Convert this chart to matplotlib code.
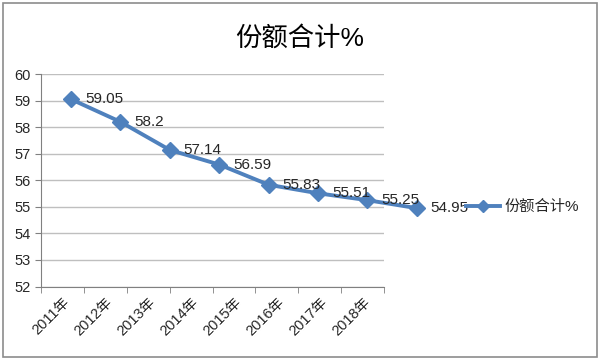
import matplotlib
matplotlib.use('Agg')
import matplotlib.pyplot as plt
from matplotlib.patches import Rectangle

plt.rcParams['font.family'] = ['Liberation Sans', 'Noto Sans CJK SC']

years = ['2011年', '2012年', '2013年', '2014年', '2015年', '2016年', '2017年', '2018年']
share = [59.05, 58.2, 57.14, 56.59, 55.83, 55.51, 55.25, 54.95]
series_name = '份额合计%'
y_ticks = [52, 53, 54, 55, 56, 57, 58, 59, 60]

blue = '#4F81BD'
grid_gray = '#BFBFBF'
text_col = '#262626'

fig = plt.figure(figsize=(6, 3.6), dpi=100)
fig.patches.append(Rectangle((0.005, 0.008), 0.99, 0.985, transform=fig.transFigure,
                             fill=False, edgecolor='#8C8C8C', linewidth=1.2))

pos = [40.7 / 600, 73.5 / 360, 343.6 / 600, 212.5 / 360]

# axis, grid and category labels
ax = fig.add_axes(pos)
n = len(years)
ax.set_xlim(-0.5, n - 0.5)
ax.set_ylim(y_ticks[0], y_ticks[-1])
ax.set_yticks(y_ticks)
ax.set_yticklabels([str(t) for t in y_ticks], fontsize=10.5, color=text_col)
for t in y_ticks:
    ax.axhline(t, color=grid_gray, linewidth=1, zorder=0)
ax.set_xticks(range(n))
ax.set_xticklabels(years, rotation=45, ha='right', va='top', rotation_mode='anchor',
                   fontsize=10.5, color=text_col)
ax.set_xticks([i - 0.5 for i in range(n + 1)], minor=True)
ax.tick_params(axis='x', which='major', length=0, pad=6)
ax.tick_params(axis='x', which='minor', length=4, color='#808080', direction='out')
ax.tick_params(axis='y', length=4, color='#808080', direction='out', pad=3)
for s in ['top', 'right']:
    ax.spines[s].set_visible(False)
for s in ['left', 'bottom']:
    ax.spines[s].set_color('#808080')
ax.set_facecolor('none')

# series drawn on its own scale (wider spacing than the category axis)
ax2 = fig.add_axes(pos)
ax2.set_xlim(-0.613, 6.342)
ax2.set_ylim(y_ticks[0], y_ticks[-1])
ax2.axis('off')
ax2.plot(range(n), share, color=blue, linewidth=2.8, marker='D', markersize=8,
         clip_on=False, label=series_name)
for i, v in enumerate(share):
    ax2.annotate(str(v), (i, v), xytext=(14, 0), textcoords='offset pixels',
                 ha='left', va='center', fontsize=11, color=text_col,
                 annotation_clip=False)

fig.legend(loc='center left', bbox_to_anchor=(466 / 600, 1 - 207 / 360), frameon=False,
           fontsize=11, handlelength=2.2, handletextpad=0.35, borderpad=0,
           borderaxespad=0, markerscale=0.75, labelcolor=text_col)

fig.text(0.5, 1 - 38 / 360, series_name, ha='center', va='center', fontsize=19,
         color='black')

fig.savefig('out.png', dpi=100)
